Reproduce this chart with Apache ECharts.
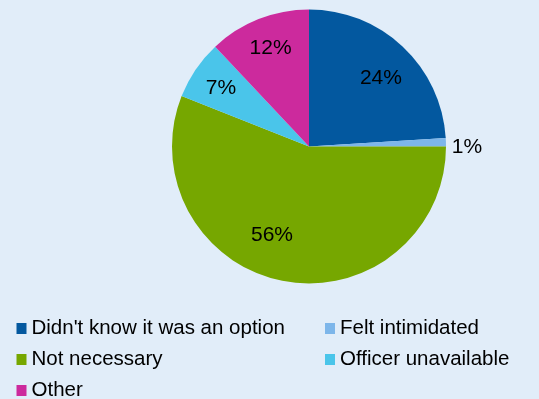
<!DOCTYPE html>
<html>
<head>
<meta charset="utf-8">
<script src="https://cdn.jsdelivr.net/npm/echarts@6/dist/echarts.min.js"></script>
<style>
  html, body { margin: 0; padding: 0; background: #E1EDF9; }
  #chart { width: 539px; height: 399px; }
</style>
</head>
<body>
<div id="chart"></div>
<script>
// Reasons given, share of respondents (%)
const categories = [
  "Didn't know it was an option",
  "Felt intimidated",
  "Not necessary",
  "Officer unavailable",
  "Other"
];
const shares = [24, 1, 56, 7, 12];
const sliceColors = ['#03589F', '#7DB6EA', '#76A700', '#4AC5EA', '#CC2A9D'];

// Legend columns
const legendLeft = [categories[0], categories[2], categories[4]];
const legendRight = [categories[1], categories[3]];

const FONT = "'Liberation Sans', Arial, sans-serif";
const CX = 309, CY = 146.5, R = 137;
// distance of each value label from the pie centre, plus a small pixel nudge
const labelRadius = [100, 157, 96, 107, 107];
const labelNudge = [[3.5, 5], [1, 5.5], [-19, -5.5], [0.5, 2], [1, 1]];

const chart = echarts.init(document.getElementById('chart'), null, { renderer: 'canvas' });

const total = shares.reduce((a, b) => a + b, 0);

function legendBlock(names, left) {
  return {
    data: names,
    orient: 'vertical',
    left: left,
    top: 318,
    height: 120,
    icon: 'rect',
    itemWidth: 10,
    itemHeight: 11,
    itemGap: 10,
    padding: 0,
    selectedMode: false,
    textStyle: { fontFamily: FONT, fontSize: 20.5, color: '#000', lineHeight: 20 }
  };
}

chart.setOption({
  animation: false,
  backgroundColor: '#E1EDF9',
  color: sliceColors,
  legend: [legendBlock(legendLeft, 16.5), legendBlock(legendRight, 325)],
  series: [{
    type: 'pie',
    center: [CX, CY],
    radius: [0, R],
    startAngle: 90,
    clockwise: true,
    silent: true,
    itemStyle: { borderWidth: 0 },
    label: {
      show: true,
      position: 'inside',
      fontFamily: FONT,
      fontSize: 21,
      color: '#000',
      formatter: p => Math.round(p.percent) + '%'
    },
    labelLine: { show: false },
    labelLayout: function (p) {
      const i = p.dataIndex;
      let before = 0;
      for (let k = 0; k < i; k++) before += shares[k];
      const mid = (90 - (before + shares[i] / 2) / total * 360) * Math.PI / 180;
      const r = labelRadius[i];
      return {
        x: CX + r * Math.cos(mid) + labelNudge[i][0],
        y: CY - r * Math.sin(mid) + labelNudge[i][1],
        align: 'center',
        verticalAlign: 'middle'
      };
    },
    data: categories.map((name, i) => ({ name: name, value: shares[i] }))
  }]
});
</script>
</body>
</html>
